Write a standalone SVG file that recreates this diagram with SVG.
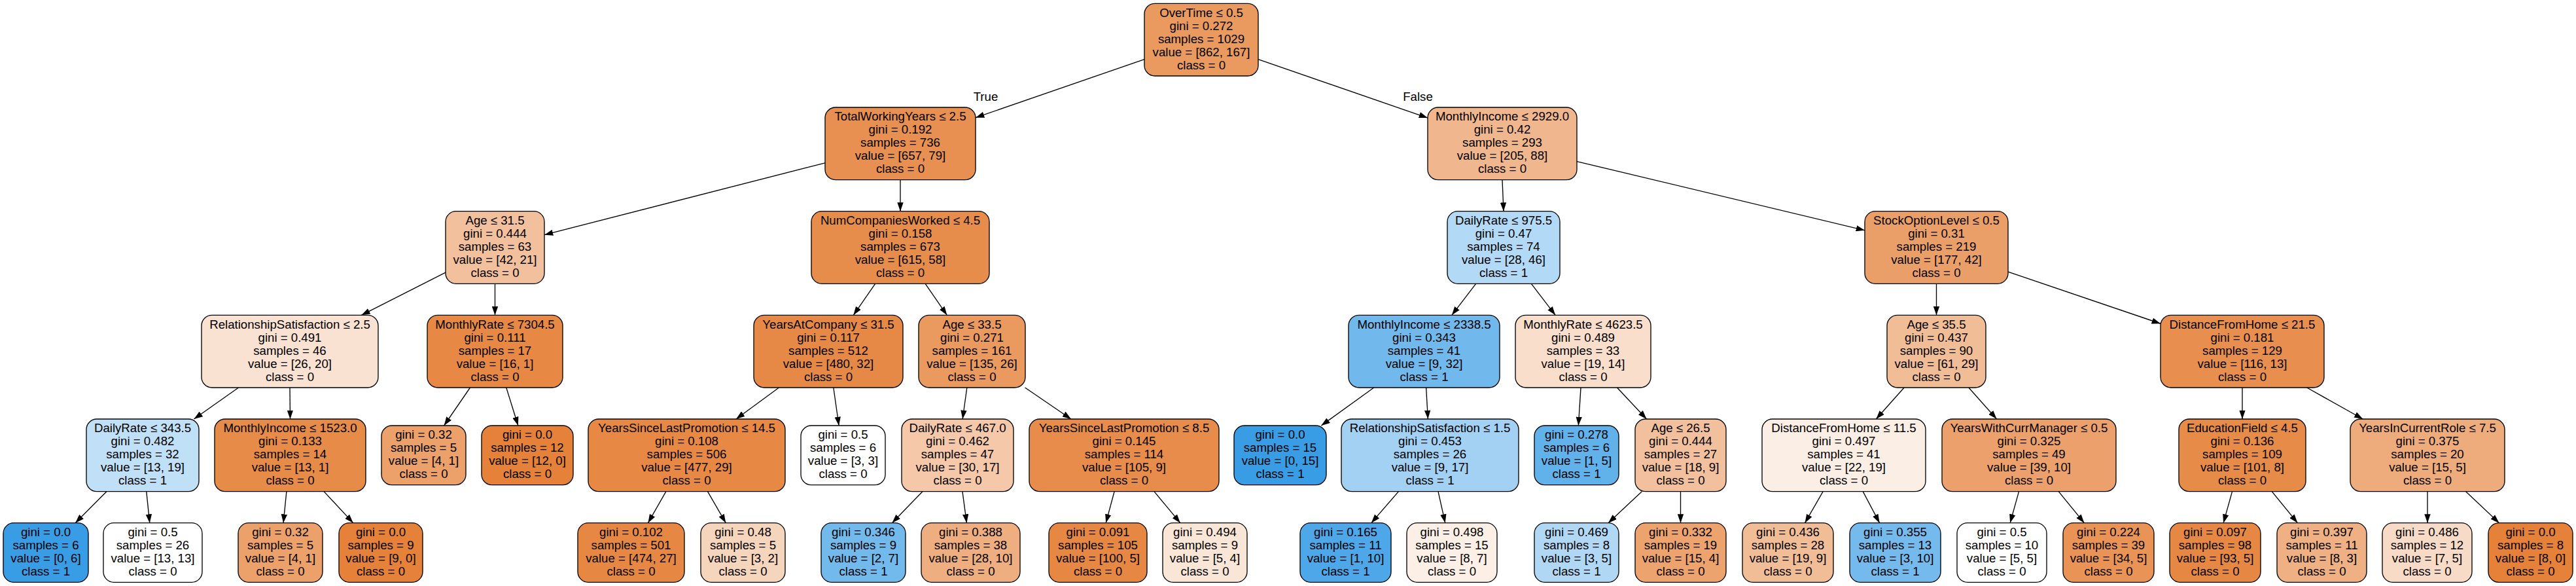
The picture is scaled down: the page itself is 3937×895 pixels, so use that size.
<svg xmlns="http://www.w3.org/2000/svg" width="3937" height="895" viewBox="0 0 3937 895">
<style>
.n rect{stroke:#000;stroke-width:1.33}
text{font-family:"Liberation Sans",Arial,Helvetica,sans-serif;font-size:18.67px;text-anchor:middle;fill:#000}
.e line{stroke:#000;stroke-width:1.33;marker-end:url(#ah)}
</style>
<defs>
<marker id="ah" markerUnits="userSpaceOnUse" markerWidth="13.33" markerHeight="9.33" viewBox="0 0 13.33 9.33" refX="13.33" refY="4.67" orient="auto"><path d="M0,0 L13.33,4.67 L0,9.33 Z" fill="#000"/></marker>
</defs>
<rect width="3937" height="895" fill="#fff"/>
<g id="connectors" class="e">
<line x1="1749" y1="90.68" x2="1491" y2="179.66"/>
<line x1="1923" y1="90.68" x2="2182" y2="180.01"/>
<line x1="1261" y1="248.78" x2="832" y2="358.66"/>
<line x1="1376" y1="274.67" x2="1376" y2="322.67"/>
<line x1="2296" y1="274.67" x2="2298" y2="322.67"/>
<line x1="2410" y1="246.59" x2="2850" y2="351.81"/>
<line x1="681" y1="416.21" x2="552.33" y2="481.33"/>
<line x1="756.5" y1="433.33" x2="756.5" y2="481.33"/>
<line x1="1337.64" y1="433.33" x2="1304.36" y2="481.33"/>
<line x1="1414.19" y1="433.33" x2="1447.31" y2="481.33"/>
<line x1="2255.63" y1="433.33" x2="2218.87" y2="481.33"/>
<line x1="2340.37" y1="433.33" x2="2377.13" y2="481.33"/>
<line x1="2959.5" y1="433.33" x2="2959.5" y2="481.33"/>
<line x1="3069" y1="415.16" x2="3302" y2="494.25"/>
<line x1="364.53" y1="592" x2="296.47" y2="640"/>
<line x1="443" y1="592" x2="443.5" y2="640"/>
<line x1="718.49" y1="592" x2="678.64" y2="650"/>
<line x1="773.76" y1="592" x2="791.86" y2="650"/>
<line x1="1190.5" y1="592" x2="1125" y2="640"/>
<line x1="1273.85" y1="592" x2="1282.07" y2="650"/>
<line x1="1477.83" y1="592" x2="1471.17" y2="640"/>
<line x1="1566.58" y1="592" x2="1636.92" y2="640"/>
<line x1="2099.78" y1="592" x2="2019.36" y2="650"/>
<line x1="2179.64" y1="592" x2="2182.36" y2="640"/>
<line x1="2416.01" y1="592" x2="2412.36" y2="650"/>
<line x1="2471.46" y1="592" x2="2516.54" y2="640"/>
<line x1="2910.15" y1="592" x2="2867.35" y2="640"/>
<line x1="3008.85" y1="592" x2="3051.65" y2="640"/>
<line x1="3427" y1="592" x2="3427" y2="640"/>
<line x1="3525.69" y1="592" x2="3611.31" y2="640"/>
<line x1="162.92" y1="750.67" x2="115.13" y2="798.67"/>
<line x1="223.77" y1="750.67" x2="228.77" y2="798.67"/>
<line x1="437.92" y1="750.67" x2="433.07" y2="798.67"/>
<line x1="495.05" y1="750.67" x2="539.77" y2="798.67"/>
<line x1="1017.86" y1="750.67" x2="990.42" y2="798.67"/>
<line x1="1081.51" y1="750.67" x2="1109.28" y2="798.67"/>
<line x1="1409.91" y1="750.67" x2="1363.41" y2="798.67"/>
<line x1="1470.94" y1="750.67" x2="1477.4" y2="798.67"/>
<line x1="1703.11" y1="750.67" x2="1690.2" y2="798.67"/>
<line x1="1763.96" y1="750.67" x2="1803.84" y2="798.67"/>
<line x1="2137.49" y1="750.67" x2="2095.84" y2="798.67"/>
<line x1="2197.97" y1="750.67" x2="2208.78" y2="798.67"/>
<line x1="2509.32" y1="750.67" x2="2457.98" y2="798.67"/>
<line x1="2568.5" y1="750.67" x2="2568.5" y2="798.67"/>
<line x1="2786.18" y1="750.67" x2="2758.57" y2="798.67"/>
<line x1="2847.22" y1="750.67" x2="2872.56" y2="798.67"/>
<line x1="3085.55" y1="750.67" x2="3072.15" y2="798.67"/>
<line x1="3146.22" y1="750.67" x2="3185.45" y2="798.67"/>
<line x1="3411.55" y1="750.67" x2="3398.15" y2="798.67"/>
<line x1="3472.22" y1="750.67" x2="3511.45" y2="798.67"/>
<line x1="3710" y1="750.67" x2="3710" y2="798.67"/>
<line x1="3768.62" y1="750.67" x2="3819.47" y2="798.67"/>
<text x="1506.5" y="154">True</text>
<text x="2167" y="154">False</text>
</g>
<g id="n0" class="n"><rect x="1749" y="5.33" width="174" height="110.67" rx="16" fill="#ea995f"/><text y="25.6"><tspan x="1836">OverTime ≤ 0.5</tspan><tspan x="1836" dy="20">gini = 0.272</tspan><tspan x="1836" dy="20">samples = 1029</tspan><tspan x="1836" dy="20">value = [862, 167]</tspan><tspan x="1836" dy="20">class = 0</tspan></text></g>
<g id="n1" class="n"><rect x="1261" y="164" width="230" height="110.67" rx="16" fill="#e89051"/><text y="184.27"><tspan x="1376">TotalWorkingYears ≤ 2.5</tspan><tspan x="1376" dy="20">gini = 0.192</tspan><tspan x="1376" dy="20">samples = 736</tspan><tspan x="1376" dy="20">value = [657, 79]</tspan><tspan x="1376" dy="20">class = 0</tspan></text></g>
<g id="n2" class="n"><rect x="2182" y="164" width="228" height="110.67" rx="16" fill="#f0b78e"/><text y="184.27"><tspan x="2296">MonthlyIncome ≤ 2929.0</tspan><tspan x="2296" dy="20">gini = 0.42</tspan><tspan x="2296" dy="20">samples = 293</tspan><tspan x="2296" dy="20">value = [205, 88]</tspan><tspan x="2296" dy="20">class = 0</tspan></text></g>
<g id="n3" class="n"><rect x="681" y="322.67" width="151" height="110.67" rx="16" fill="#f2c09c"/><text y="342.93"><tspan x="756.5">Age ≤ 31.5</tspan><tspan x="756.5" dy="20">gini = 0.444</tspan><tspan x="756.5" dy="20">samples = 63</tspan><tspan x="756.5" dy="20">value = [42, 21]</tspan><tspan x="756.5" dy="20">class = 0</tspan></text></g>
<g id="n4" class="n"><rect x="1240" y="322.67" width="272" height="110.67" rx="16" fill="#e78d4c"/><text y="342.93"><tspan x="1376">NumCompaniesWorked ≤ 4.5</tspan><tspan x="1376" dy="20">gini = 0.158</tspan><tspan x="1376" dy="20">samples = 673</tspan><tspan x="1376" dy="20">value = [615, 58]</tspan><tspan x="1376" dy="20">class = 0</tspan></text></g>
<g id="n5" class="n"><rect x="2212" y="322.67" width="172" height="110.67" rx="16" fill="#b2d9f5"/><text y="342.93"><tspan x="2298">DailyRate ≤ 975.5</tspan><tspan x="2298" dy="20">gini = 0.47</tspan><tspan x="2298" dy="20">samples = 74</tspan><tspan x="2298" dy="20">value = [28, 46]</tspan><tspan x="2298" dy="20">class = 1</tspan></text></g>
<g id="n6" class="n"><rect x="2850" y="322.67" width="219" height="110.67" rx="16" fill="#eb9f68"/><text y="342.93"><tspan x="2959.5">StockOptionLevel ≤ 0.5</tspan><tspan x="2959.5" dy="20">gini = 0.31</tspan><tspan x="2959.5" dy="20">samples = 219</tspan><tspan x="2959.5" dy="20">value = [177, 42]</tspan><tspan x="2959.5" dy="20">class = 0</tspan></text></g>
<g id="n7" class="n"><rect x="308" y="481.33" width="270" height="110.67" rx="16" fill="#f9e2d1"/><text y="501.6"><tspan x="443">RelationshipSatisfaction ≤ 2.5</tspan><tspan x="443" dy="20">gini = 0.491</tspan><tspan x="443" dy="20">samples = 46</tspan><tspan x="443" dy="20">value = [26, 20]</tspan><tspan x="443" dy="20">class = 0</tspan></text></g>
<g id="n8" class="n"><rect x="653" y="481.33" width="207" height="110.67" rx="16" fill="#e78945"/><text y="501.6"><tspan x="756.5">MonthlyRate ≤ 7304.5</tspan><tspan x="756.5" dy="20">gini = 0.111</tspan><tspan x="756.5" dy="20">samples = 17</tspan><tspan x="756.5" dy="20">value = [16, 1]</tspan><tspan x="756.5" dy="20">class = 0</tspan></text></g>
<g id="n9" class="n"><rect x="1152" y="481.33" width="228" height="110.67" rx="16" fill="#e78946"/><text y="501.6"><tspan x="1266">YearsAtCompany ≤ 31.5</tspan><tspan x="1266" dy="20">gini = 0.117</tspan><tspan x="1266" dy="20">samples = 512</tspan><tspan x="1266" dy="20">value = [480, 32]</tspan><tspan x="1266" dy="20">class = 0</tspan></text></g>
<g id="n10" class="n"><rect x="1404" y="481.33" width="163" height="110.67" rx="16" fill="#ea995f"/><text y="501.6"><tspan x="1485.5">Age ≤ 33.5</tspan><tspan x="1485.5" dy="20">gini = 0.271</tspan><tspan x="1485.5" dy="20">samples = 161</tspan><tspan x="1485.5" dy="20">value = [135, 26]</tspan><tspan x="1485.5" dy="20">class = 0</tspan></text></g>
<g id="n11" class="n"><rect x="2061" y="481.33" width="231" height="110.67" rx="16" fill="#71b9ec"/><text y="501.6"><tspan x="2176.5">MonthlyIncome ≤ 2338.5</tspan><tspan x="2176.5" dy="20">gini = 0.343</tspan><tspan x="2176.5" dy="20">samples = 41</tspan><tspan x="2176.5" dy="20">value = [9, 32]</tspan><tspan x="2176.5" dy="20">class = 1</tspan></text></g>
<g id="n12" class="n"><rect x="2316" y="481.33" width="207" height="110.67" rx="16" fill="#f8decb"/><text y="501.6"><tspan x="2419.5">MonthlyRate ≤ 4623.5</tspan><tspan x="2419.5" dy="20">gini = 0.489</tspan><tspan x="2419.5" dy="20">samples = 33</tspan><tspan x="2419.5" dy="20">value = [19, 14]</tspan><tspan x="2419.5" dy="20">class = 0</tspan></text></g>
<g id="n13" class="n"><rect x="2884" y="481.33" width="151" height="110.67" rx="16" fill="#f1bd97"/><text y="501.6"><tspan x="2959.5">Age ≤ 35.5</tspan><tspan x="2959.5" dy="20">gini = 0.437</tspan><tspan x="2959.5" dy="20">samples = 90</tspan><tspan x="2959.5" dy="20">value = [61, 29]</tspan><tspan x="2959.5" dy="20">class = 0</tspan></text></g>
<g id="n14" class="n"><rect x="3302" y="481.33" width="250" height="110.67" rx="16" fill="#e88f4f"/><text y="501.6"><tspan x="3427">DistanceFromHome ≤ 21.5</tspan><tspan x="3427" dy="20">gini = 0.181</tspan><tspan x="3427" dy="20">samples = 129</tspan><tspan x="3427" dy="20">value = [116, 13]</tspan><tspan x="3427" dy="20">class = 0</tspan></text></g>
<g id="n15" class="n"><rect x="132" y="640" width="172" height="110.67" rx="16" fill="#c0e0f7"/><text y="660.27"><tspan x="218">DailyRate ≤ 343.5</tspan><tspan x="218" dy="20">gini = 0.482</tspan><tspan x="218" dy="20">samples = 32</tspan><tspan x="218" dy="20">value = [13, 19]</tspan><tspan x="218" dy="20">class = 1</tspan></text></g>
<g id="n16" class="n"><rect x="328" y="640" width="231" height="110.67" rx="16" fill="#e78b48"/><text y="660.27"><tspan x="443.5">MonthlyIncome ≤ 1523.0</tspan><tspan x="443.5" dy="20">gini = 0.133</tspan><tspan x="443.5" dy="20">samples = 14</tspan><tspan x="443.5" dy="20">value = [13, 1]</tspan><tspan x="443.5" dy="20">class = 0</tspan></text></g>
<g id="n17" class="n"><rect x="583" y="650" width="129" height="90.67" rx="16" fill="#eca06a"/><text y="670.27"><tspan x="647.5">gini = 0.32</tspan><tspan x="647.5" dy="20">samples = 5</tspan><tspan x="647.5" dy="20">value = [4, 1]</tspan><tspan x="647.5" dy="20">class = 0</tspan></text></g>
<g id="n18" class="n"><rect x="736" y="650" width="140" height="90.67" rx="16" fill="#e58139"/><text y="670.27"><tspan x="806">gini = 0.0</tspan><tspan x="806" dy="20">samples = 12</tspan><tspan x="806" dy="20">value = [12, 0]</tspan><tspan x="806" dy="20">class = 0</tspan></text></g>
<g id="n19" class="n"><rect x="899" y="640" width="301" height="110.67" rx="16" fill="#e78945"/><text y="660.27"><tspan x="1049.5">YearsSinceLastPromotion ≤ 14.5</tspan><tspan x="1049.5" dy="20">gini = 0.108</tspan><tspan x="1049.5" dy="20">samples = 506</tspan><tspan x="1049.5" dy="20">value = [477, 29]</tspan><tspan x="1049.5" dy="20">class = 0</tspan></text></g>
<g id="n20" class="n"><rect x="1224" y="650" width="129" height="90.67" rx="16" fill="#ffffff"/><text y="670.27"><tspan x="1288.5">gini = 0.5</tspan><tspan x="1288.5" dy="20">samples = 6</tspan><tspan x="1288.5" dy="20">value = [3, 3]</tspan><tspan x="1288.5" dy="20">class = 0</tspan></text></g>
<g id="n21" class="n"><rect x="1378" y="640" width="171" height="110.67" rx="16" fill="#f4c8a9"/><text y="660.27"><tspan x="1463.5">DailyRate ≤ 467.0</tspan><tspan x="1463.5" dy="20">gini = 0.462</tspan><tspan x="1463.5" dy="20">samples = 47</tspan><tspan x="1463.5" dy="20">value = [30, 17]</tspan><tspan x="1463.5" dy="20">class = 0</tspan></text></g>
<g id="n22" class="n"><rect x="1573" y="640" width="290" height="110.67" rx="16" fill="#e78c4a"/><text y="660.27"><tspan x="1718">YearsSinceLastPromotion ≤ 8.5</tspan><tspan x="1718" dy="20">gini = 0.145</tspan><tspan x="1718" dy="20">samples = 114</tspan><tspan x="1718" dy="20">value = [105, 9]</tspan><tspan x="1718" dy="20">class = 0</tspan></text></g>
<g id="n23" class="n"><rect x="1886" y="650" width="141" height="90.67" rx="16" fill="#399de5"/><text y="670.27"><tspan x="1956.5">gini = 0.0</tspan><tspan x="1956.5" dy="20">samples = 15</tspan><tspan x="1956.5" dy="20">value = [0, 15]</tspan><tspan x="1956.5" dy="20">class = 1</tspan></text></g>
<g id="n24" class="n"><rect x="2050" y="640" width="271" height="110.67" rx="16" fill="#a2d1f3"/><text y="660.27"><tspan x="2185.5">RelationshipSatisfaction ≤ 1.5</tspan><tspan x="2185.5" dy="20">gini = 0.453</tspan><tspan x="2185.5" dy="20">samples = 26</tspan><tspan x="2185.5" dy="20">value = [9, 17]</tspan><tspan x="2185.5" dy="20">class = 1</tspan></text></g>
<g id="n25" class="n"><rect x="2345" y="650" width="129" height="90.67" rx="16" fill="#61b1ea"/><text y="670.27"><tspan x="2409.5">gini = 0.278</tspan><tspan x="2409.5" dy="20">samples = 6</tspan><tspan x="2409.5" dy="20">value = [1, 5]</tspan><tspan x="2409.5" dy="20">class = 1</tspan></text></g>
<g id="n26" class="n"><rect x="2499" y="640" width="139" height="110.67" rx="16" fill="#f2c09c"/><text y="660.27"><tspan x="2568.5">Age ≤ 26.5</tspan><tspan x="2568.5" dy="20">gini = 0.444</tspan><tspan x="2568.5" dy="20">samples = 27</tspan><tspan x="2568.5" dy="20">value = [18, 9]</tspan><tspan x="2568.5" dy="20">class = 0</tspan></text></g>
<g id="n27" class="n"><rect x="2693" y="640" width="250" height="110.67" rx="16" fill="#fbeee4"/><text y="660.27"><tspan x="2818">DistanceFromHome ≤ 11.5</tspan><tspan x="2818" dy="20">gini = 0.497</tspan><tspan x="2818" dy="20">samples = 41</tspan><tspan x="2818" dy="20">value = [22, 19]</tspan><tspan x="2818" dy="20">class = 0</tspan></text></g>
<g id="n28" class="n"><rect x="2968" y="640" width="266" height="110.67" rx="16" fill="#eca16c"/><text y="660.27"><tspan x="3101">YearsWithCurrManager ≤ 0.5</tspan><tspan x="3101" dy="20">gini = 0.325</tspan><tspan x="3101" dy="20">samples = 49</tspan><tspan x="3101" dy="20">value = [39, 10]</tspan><tspan x="3101" dy="20">class = 0</tspan></text></g>
<g id="n29" class="n"><rect x="3330" y="640" width="194" height="110.67" rx="16" fill="#e78b49"/><text y="660.27"><tspan x="3427">EducationField ≤ 4.5</tspan><tspan x="3427" dy="20">gini = 0.136</tspan><tspan x="3427" dy="20">samples = 109</tspan><tspan x="3427" dy="20">value = [101, 8]</tspan><tspan x="3427" dy="20">class = 0</tspan></text></g>
<g id="n30" class="n"><rect x="3592" y="640" width="236" height="110.67" rx="16" fill="#eeab7b"/><text y="660.27"><tspan x="3710">YearsInCurrentRole ≤ 7.5</tspan><tspan x="3710" dy="20">gini = 0.375</tspan><tspan x="3710" dy="20">samples = 20</tspan><tspan x="3710" dy="20">value = [15, 5]</tspan><tspan x="3710" dy="20">class = 0</tspan></text></g>
<g id="l0" class="n"><rect x="5" y="798.67" width="130" height="90.67" rx="16" fill="#399de5"/><text y="818.93"><tspan x="70">gini = 0.0</tspan><tspan x="70" dy="20">samples = 6</tspan><tspan x="70" dy="20">value = [0, 6]</tspan><tspan x="70" dy="20">class = 1</tspan></text></g>
<g id="l1" class="n"><rect x="158" y="798.67" width="151" height="90.67" rx="16" fill="#ffffff"/><text y="818.93"><tspan x="233.5">gini = 0.5</tspan><tspan x="233.5" dy="20">samples = 26</tspan><tspan x="233.5" dy="20">value = [13, 13]</tspan><tspan x="233.5" dy="20">class = 0</tspan></text></g>
<g id="l2" class="n"><rect x="364" y="798.67" width="129" height="90.67" rx="16" fill="#eca06a"/><text y="818.93"><tspan x="428.5">gini = 0.32</tspan><tspan x="428.5" dy="20">samples = 5</tspan><tspan x="428.5" dy="20">value = [4, 1]</tspan><tspan x="428.5" dy="20">class = 0</tspan></text></g>
<g id="l3" class="n"><rect x="518" y="798.67" width="128" height="90.67" rx="16" fill="#e58139"/><text y="818.93"><tspan x="582">gini = 0.0</tspan><tspan x="582" dy="20">samples = 9</tspan><tspan x="582" dy="20">value = [9, 0]</tspan><tspan x="582" dy="20">class = 0</tspan></text></g>
<g id="l4" class="n"><rect x="883" y="798.67" width="163" height="90.67" rx="16" fill="#e68844"/><text y="818.93"><tspan x="964.5">gini = 0.102</tspan><tspan x="964.5" dy="20">samples = 501</tspan><tspan x="964.5" dy="20">value = [474, 27]</tspan><tspan x="964.5" dy="20">class = 0</tspan></text></g>
<g id="l5" class="n"><rect x="1071" y="798.67" width="129" height="90.67" rx="16" fill="#f6d5bd"/><text y="818.93"><tspan x="1135.5">gini = 0.48</tspan><tspan x="1135.5" dy="20">samples = 5</tspan><tspan x="1135.5" dy="20">value = [3, 2]</tspan><tspan x="1135.5" dy="20">class = 0</tspan></text></g>
<g id="l6" class="n"><rect x="1255" y="798.67" width="129" height="90.67" rx="16" fill="#72b9ec"/><text y="818.93"><tspan x="1319.5">gini = 0.346</tspan><tspan x="1319.5" dy="20">samples = 9</tspan><tspan x="1319.5" dy="20">value = [2, 7]</tspan><tspan x="1319.5" dy="20">class = 1</tspan></text></g>
<g id="l7" class="n"><rect x="1408" y="798.67" width="151" height="90.67" rx="16" fill="#eeae80"/><text y="818.93"><tspan x="1483.5">gini = 0.388</tspan><tspan x="1483.5" dy="20">samples = 38</tspan><tspan x="1483.5" dy="20">value = [28, 10]</tspan><tspan x="1483.5" dy="20">class = 0</tspan></text></g>
<g id="l8" class="n"><rect x="1603" y="798.67" width="150" height="90.67" rx="16" fill="#e68743"/><text y="818.93"><tspan x="1678">gini = 0.091</tspan><tspan x="1678" dy="20">samples = 105</tspan><tspan x="1678" dy="20">value = [100, 5]</tspan><tspan x="1678" dy="20">class = 0</tspan></text></g>
<g id="l9" class="n"><rect x="1777" y="798.67" width="129" height="90.67" rx="16" fill="#fae6d7"/><text y="818.93"><tspan x="1841.5">gini = 0.494</tspan><tspan x="1841.5" dy="20">samples = 9</tspan><tspan x="1841.5" dy="20">value = [5, 4]</tspan><tspan x="1841.5" dy="20">class = 0</tspan></text></g>
<g id="l10" class="n"><rect x="1987" y="798.67" width="139" height="90.67" rx="16" fill="#4da7e8"/><text y="818.93"><tspan x="2056.5">gini = 0.165</tspan><tspan x="2056.5" dy="20">samples = 11</tspan><tspan x="2056.5" dy="20">value = [1, 10]</tspan><tspan x="2056.5" dy="20">class = 1</tspan></text></g>
<g id="l11" class="n"><rect x="2150" y="798.67" width="138" height="90.67" rx="16" fill="#fcefe6"/><text y="818.93"><tspan x="2219">gini = 0.498</tspan><tspan x="2219" dy="20">samples = 15</tspan><tspan x="2219" dy="20">value = [8, 7]</tspan><tspan x="2219" dy="20">class = 0</tspan></text></g>
<g id="l12" class="n"><rect x="2345" y="798.67" width="129" height="90.67" rx="16" fill="#b0d8f5"/><text y="818.93"><tspan x="2409.5">gini = 0.469</tspan><tspan x="2409.5" dy="20">samples = 8</tspan><tspan x="2409.5" dy="20">value = [3, 5]</tspan><tspan x="2409.5" dy="20">class = 1</tspan></text></g>
<g id="l13" class="n"><rect x="2499" y="798.67" width="139" height="90.67" rx="16" fill="#eca36e"/><text y="818.93"><tspan x="2568.5">gini = 0.332</tspan><tspan x="2568.5" dy="20">samples = 19</tspan><tspan x="2568.5" dy="20">value = [15, 4]</tspan><tspan x="2568.5" dy="20">class = 0</tspan></text></g>
<g id="l14" class="n"><rect x="2663" y="798.67" width="139" height="90.67" rx="16" fill="#f1bd97"/><text y="818.93"><tspan x="2732.5">gini = 0.436</tspan><tspan x="2732.5" dy="20">samples = 28</tspan><tspan x="2732.5" dy="20">value = [19, 9]</tspan><tspan x="2732.5" dy="20">class = 0</tspan></text></g>
<g id="l15" class="n"><rect x="2827" y="798.67" width="139" height="90.67" rx="16" fill="#74baed"/><text y="818.93"><tspan x="2896.5">gini = 0.355</tspan><tspan x="2896.5" dy="20">samples = 13</tspan><tspan x="2896.5" dy="20">value = [3, 10]</tspan><tspan x="2896.5" dy="20">class = 1</tspan></text></g>
<g id="l16" class="n"><rect x="2991" y="798.67" width="137" height="90.67" rx="16" fill="#ffffff"/><text y="818.93"><tspan x="3059.5">gini = 0.5</tspan><tspan x="3059.5" dy="20">samples = 10</tspan><tspan x="3059.5" dy="20">value = [5, 5]</tspan><tspan x="3059.5" dy="20">class = 0</tspan></text></g>
<g id="l17" class="n"><rect x="3153" y="798.67" width="139" height="90.67" rx="16" fill="#e99456"/><text y="818.93"><tspan x="3222.5">gini = 0.224</tspan><tspan x="3222.5" dy="20">samples = 39</tspan><tspan x="3222.5" dy="20">value = [34, 5]</tspan><tspan x="3222.5" dy="20">class = 0</tspan></text></g>
<g id="l18" class="n"><rect x="3316" y="798.67" width="139" height="90.67" rx="16" fill="#e68844"/><text y="818.93"><tspan x="3385.5">gini = 0.097</tspan><tspan x="3385.5" dy="20">samples = 98</tspan><tspan x="3385.5" dy="20">value = [93, 5]</tspan><tspan x="3385.5" dy="20">class = 0</tspan></text></g>
<g id="l19" class="n"><rect x="3480" y="798.67" width="137" height="90.67" rx="16" fill="#efb083"/><text y="818.93"><tspan x="3548.5">gini = 0.397</tspan><tspan x="3548.5" dy="20">samples = 11</tspan><tspan x="3548.5" dy="20">value = [8, 3]</tspan><tspan x="3548.5" dy="20">class = 0</tspan></text></g>
<g id="l20" class="n"><rect x="3641" y="798.67" width="137" height="90.67" rx="16" fill="#f8dbc6"/><text y="818.93"><tspan x="3709.5">gini = 0.486</tspan><tspan x="3709.5" dy="20">samples = 12</tspan><tspan x="3709.5" dy="20">value = [7, 5]</tspan><tspan x="3709.5" dy="20">class = 0</tspan></text></g>
<g id="l21" class="n"><rect x="3803" y="798.67" width="129" height="90.67" rx="16" fill="#e58139"/><text y="818.93"><tspan x="3867.5">gini = 0.0</tspan><tspan x="3867.5" dy="20">samples = 8</tspan><tspan x="3867.5" dy="20">value = [8, 0]</tspan><tspan x="3867.5" dy="20">class = 0</tspan></text></g>
</svg>
